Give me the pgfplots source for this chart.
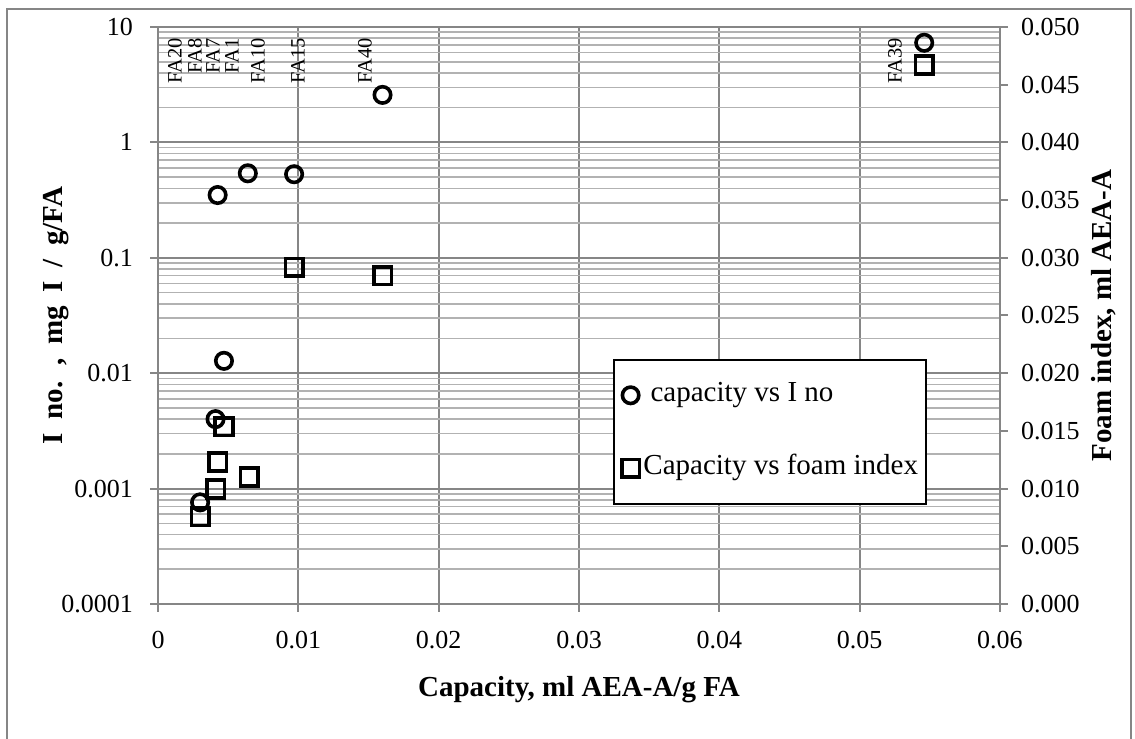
\documentclass[border=0pt]{standalone}
\usepackage{fontspec}
\setmainfont{Liberation Serif}
\usepackage{pgfplots}
\pgfplotsset{compat=1.18}
\definecolor{majgrid}{RGB}{134,134,134}
\definecolor{mingrid}{RGB}{178,178,178}
\definecolor{axgray}{RGB}{134,134,134}
\newcommand{\tickfont}{\fontsize{13bp}{15.5bp}\selectfont}
\newcommand{\titlefont}{\fontsize{14.5bp}{17bp}\selectfont\bfseries}
\begin{document}
\begin{tikzpicture}
\useasboundingbox (0,0) rectangle (567.5bp,369.5bp);
\draw[axgray, line width=1bp] (3.5bp,-3bp) -- (3.5bp,365bp) -- (565.5bp,365bp) -- (565.5bp,-3bp);
\begin{axis}[
  at={(79bp,67.5bp)}, anchor=south west,
  scale only axis, width=421bp, height=288.5bp,
  xmin=0, xmax=0.06, ymode=log, ymin=1e-4, ymax=10,
  scaled ticks=false,
  xtick={0,0.01,0.02,0.03,0.04,0.05,0.06},
  xticklabels={0,0.01,0.02,0.03,0.04,0.05,0.06},
  ytick={1e-4,1e-3,1e-2,1e-1,1,10},
  yticklabels={0.0001,0.001,0.01,0.1,1,10},
  minor ytick={2e-4,3e-4,4e-4,5e-4,6e-4,7e-4,8e-4,9e-4,
               2e-3,3e-3,4e-3,5e-3,6e-3,7e-3,8e-3,9e-3,
               0.02,0.03,0.04,0.05,0.06,0.07,0.08,0.09,
               0.2,0.3,0.4,0.5,0.6,0.7,0.8,0.9,
               2,3,4,5,6,7,8,9},
  xmajorgrids, ymajorgrids, yminorgrids,
  major grid style={majgrid, line width=1bp},
  minor grid style={mingrid, line width=0.8bp},
  axis line style={axgray, line width=1bp},
  tick align=outside, major tick length=4bp, minor tick length=0pt,
  every tick/.style={axgray, line width=1bp},
  xtick pos=lower, ytick pos=left,
  ticklabel style={font=\tickfont, text=black},
  xticklabel style={yshift=-6bp},
  yticklabel style={xshift=-5bp},
  xlabel={Capacity, ml AEA-A/g FA},
  ylabel={\spaceskip=0.47em I no. , mg I / g/FA},
  xlabel style={font=\titlefont, at={(axis description cs:0.5,-0.149)}, anchor=center},
  ylabel style={font=\titlefont, at={(axis description cs:-0.121,0.5)}, anchor=center},
]
\addplot[only marks, mark=o, mark size=4.1bp, line width=1.8bp, black] coordinates {
  (0.0030, 0.00076)
  (0.0041, 0.0040)
  (0.00425, 0.35)
  (0.0047, 0.0128)
  (0.0064, 0.54)
  (0.0097, 0.53)
  (0.0160, 2.58)
  (0.0546, 7.3)
};
\end{axis}
\begin{axis}[
  at={(79bp,67.5bp)}, anchor=south west,
  scale only axis, width=421bp, height=288.5bp,
  xmin=0, xmax=0.06, ymin=0, ymax=0.05,
  scaled ticks=false,
  axis x line=none, axis y line*=right,
  ytick={0,0.005,0.01,0.015,0.02,0.025,0.03,0.035,0.04,0.045,0.05},
  yticklabels={0.000,0.005,0.010,0.015,0.020,0.025,0.030,0.035,0.040,0.045,0.050},
  axis line style={axgray, line width=1bp},
  tick align=outside, major tick length=4bp,
  every tick/.style={axgray, line width=1bp},
  ticklabel style={font=\tickfont, text=black},
  yticklabel style={xshift=3bp},
  ylabel={Foam index, ml AEA-A},
  ylabel style={font=\titlefont, at={(axis description cs:1.1235,0.5)}, anchor=center},
  legend cell align=left,
  legend style={at={(axis description cs:0.5404,0.4246)}, anchor=north west,
    draw=black, line width=0.8bp, fill=white,
    font=\fontsize{14.5bp}{17bp}\selectfont,
    inner xsep=4bp, inner ysep=11bp, row sep=23bp, column sep=2bp,
    nodes={inner sep=0pt, text height=10bp, text depth=3.5bp}},
  legend image code/.code={\draw[#1] plot coordinates {(0bp,0bp)};},
]
\addlegendimage{only marks, mark=o, mark size=4.1bp, line width=1.8bp, black}
\addlegendentry{\hspace{3.6bp}capacity vs I no}
\addplot[only marks, mark=square, mark size=4.4bp, line width=1.8bp, black] coordinates {
  (0.0030, 0.00757)
  (0.0041, 0.00997)
  (0.00425, 0.01231)
  (0.0047, 0.01536)
  (0.0065, 0.01101)
  (0.0097, 0.02918)
  (0.0160, 0.02845)
  (0.0546, 0.04671)
};
\addlegendentry{Capacity vs foam index}
\begin{scope}[every node/.style={rotate=90, anchor=east, inner sep=0pt, font=\fontsize{10.2bp}{12bp}\selectfont}]
\node at (axis cs:0.00121,0.04905) {FA20};
\node at (axis cs:0.00264,0.04905) {FA8};
\node at (axis cs:0.00392,0.04905) {FA7};
\node at (axis cs:0.00527,0.04905) {FA1};
\node at (axis cs:0.00713,0.04905) {FA10};
\node at (axis cs:0.00998,0.04905) {FA15};
\node at (axis cs:0.01475,0.04905) {FA40};
\node at (axis cs:0.05252,0.04905) {FA39};
\end{scope}
\end{axis}
\end{tikzpicture}
\end{document}
